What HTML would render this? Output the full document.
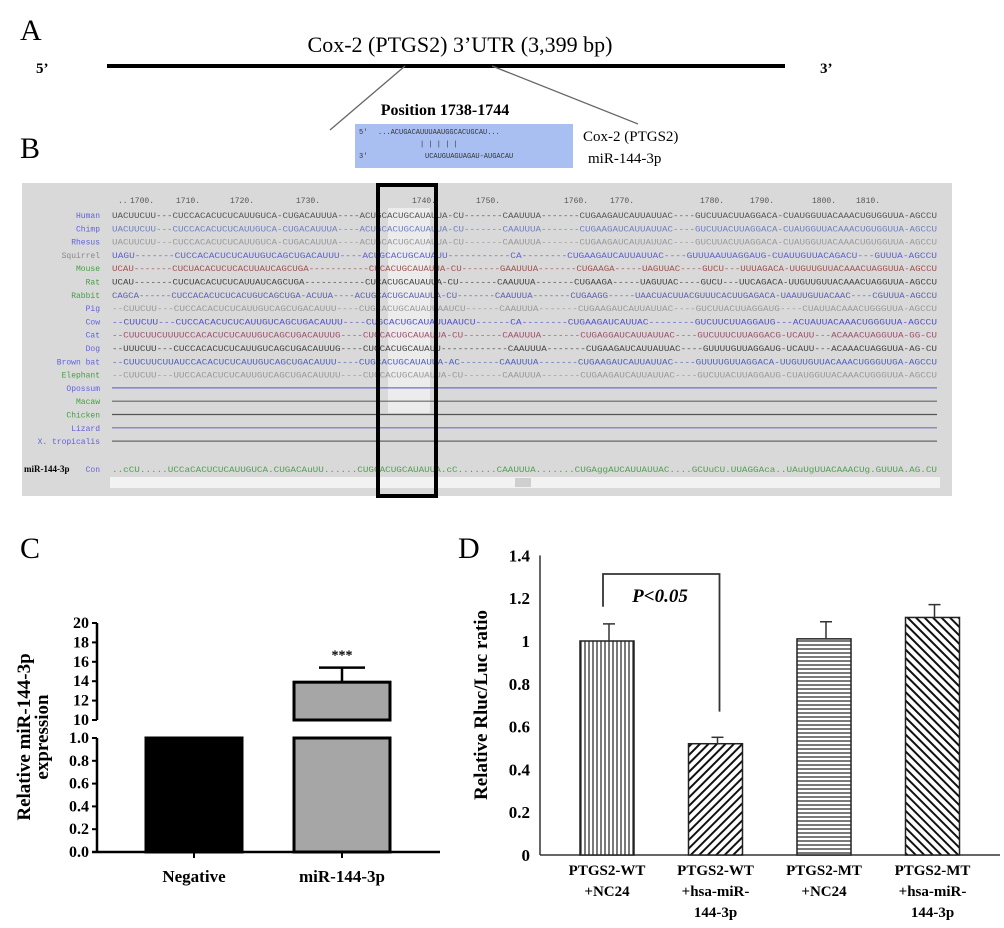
<!DOCTYPE html>
<html><head><meta charset="utf-8"><style>
html,body{margin:0;padding:0;background:#fff;}
svg{display:block;font-family:"Liberation Serif",serif;}
</style></head><body>
<svg id="fig" width="1004" height="928" viewBox="0 0 1004 928" xmlns="http://www.w3.org/2000/svg">
<defs>
<pattern id="pv" width="4" height="4" patternUnits="userSpaceOnUse"><rect width="4" height="4" fill="#fff"/><line x1="1" y1="0" x2="1" y2="4" stroke="#222" stroke-width="1.2"/></pattern>
<pattern id="ph" width="4" height="4" patternUnits="userSpaceOnUse"><rect width="4" height="4" fill="#fff"/><line x1="0" y1="1" x2="4" y2="1" stroke="#222" stroke-width="1.2"/></pattern>
<pattern id="pd1" width="6" height="6" patternUnits="userSpaceOnUse" patternTransform="rotate(45)"><rect width="6" height="6" fill="#fff"/><line x1="1" y1="0" x2="1" y2="6" stroke="#111" stroke-width="2"/></pattern>
<pattern id="pd2" width="6" height="6" patternUnits="userSpaceOnUse" patternTransform="rotate(-45)"><rect width="6" height="6" fill="#fff"/><line x1="1" y1="0" x2="1" y2="6" stroke="#111" stroke-width="2"/></pattern>
</defs>

<!-- Panel A -->
<text x="20" y="40" font-size="30">A</text>
<text x="460" y="52" font-size="22" text-anchor="middle">Cox-2 (PTGS2) 3’UTR (3,399 bp)</text>
<text x="36" y="73" font-size="15" font-weight="bold">5’</text>
<text x="820" y="73" font-size="15" font-weight="bold">3’</text>
<line x1="107" y1="66" x2="785" y2="66" stroke="#000" stroke-width="4"/>
<line x1="405" y1="66" x2="330" y2="130" stroke="#666" stroke-width="1.3"/>
<line x1="492" y1="66" x2="638" y2="124" stroke="#666" stroke-width="1.3"/>

<!-- Panel B -->
<text x="20" y="158" font-size="30">B</text>
<text x="445" y="115" font-size="16" font-weight="bold" text-anchor="middle">Position 1738-1744</text>
<rect x="355" y="124" width="218" height="44" fill="#a9bff2"/>
<g font-family="Liberation Mono,monospace" font-size="7" fill="#333">
<text x="359" y="134">5'</text><text x="378" y="134">...ACUGACAUUUAAUGGCACUGCAU...</text>
<text x="420" y="146">| | | | |</text>
<text x="359" y="158">3'</text><text x="425" y="158">UCAUGUAGUAGAU-AUGACAU</text>
</g>
<text x="583" y="141" font-size="15">Cox-2 (PTGS2)</text>
<text x="588" y="163" font-size="15">miR-144-3p</text>

<rect x="22" y="183" width="930" height="313" fill="#d9d9d9"/>
<rect x="388" y="208" width="42" height="205" fill="#fff" opacity="0.5"/>
<g id="aln"></g>
<rect x="110" y="477" width="830" height="11" fill="#f2f2f2"/>
<rect x="515" y="478" width="16" height="9" fill="#cfcfcf"/>
<rect x="378" y="185" width="58" height="311" fill="none" stroke="#000" stroke-width="4"/>

<!-- Panel C -->
<text x="20" y="558" font-size="30">C</text>
<g id="chartC"></g>
<!-- Panel D -->
<text x="458" y="558" font-size="30">D</text>
<g id="chartD"></g>
</svg>
<script>
const NS="http://www.w3.org/2000/svg";
function mk(p,t,a){const e=document.createElementNS(NS,t);for(const k in a)e.setAttribute(k,a[k]);p.appendChild(e);return e;}

// Alignment
const species=["Human","Chimp","Rhesus","Squirrel","Mouse","Rat","Rabbit","Pig","Cow","Cat","Dog","Brown bat","Elephant","Opossum","Macaw","Chicken","Lizard","X. tropicalis"];
const labelColors=["#6060e0","#6060e0","#6060e0","#888","#40a040","#40a040","#40a040","#6060e0","#6060e0","#6060e0","#6060e0","#6060e0","#40a040","#6060e0","#40a040","#40a040","#6060e0","#6060e0"];
const seqColors=["#555","#7080c0","#999","#6060d0","#a05050","#444","#6060b0","#999","#5050d0","#a05070","#444","#5060c0","#999","#7070d0","#666","#555","#7070c0","#666"];
const seqs=[
"UACUUCUU---CUCCACACUCUCAUUGUCA-CUGACAUUUA----ACUGCACUGCAUAUUA-CU-------CAAUUUA-------CUGAAGAUCAUUAUUAC----GUCUUACUUAGGACA-CUAUGGUUACAAACUGUGGUUA-AGCCU",
"UACUUCUU---CUCCACACUCUCAUUGUCA-CUGACAUUUA----ACUGCACUGCAUAUUA-CU-------CAAUUUA-------CUGAAGAUCAUUAUUAC----GUCUUACUUAGGACA-CUAUGGUUACAAACUGUGGUUA-AGCCU",
"UACUUCUU---CUCCACACUCUCAUUGUCA-CUGACAUUUA----ACUGCACUGCAUAUUA-CU-------CAAUUUA-------CUGAAGAUCAUUAUUAC----GUCUUACUUAGGACA-CUAUGGUUACAAACUGUGGUUA-AGCCU",
"UAGU-------CUCCACACUCUCAUUGUCAGCUGACAUUU----ACUGCACUGCAUAUU-----------CA--------CUGAAGAUCAUUAUUAC----GUUUAAUUAGGAUG-CUAUUGUUACAGACU---GUUUA-AGCCU",
"UCAU-------CUCUACACUCUCACUUAUCAGCUGA-----------CUCACUGCAUAUUA-CU-------GAAUUUA-------CUGAAGA-----UAGUUAC----GUCU---UUUAGACA-UUGUUGUUACAAACUAGGUUA-AGCCU",
"UCAU-------CUCUACACUCUCAUUAUCAGCUGA-----------CUCACUGCAUAUUA-CU-------CAAUUUA-------CUGAAGA-----UAGUUAC----GUCU---UUCAGACA-UUGUUGUUACAAACUAGGUUA-AGCCU",
"CAGCA------CUCCACACUCUCACUGUCAGCUGA-ACUUA----ACUGCACUGCAUAUUA-CU-------CAAUUUA-------CUGAAGG-----UAACUACUUACGUUUCACUUGAGACA-UAAUUGUUACAAC----CGUUUA-AGCCU",
"--CUUCUU---CUCCACACUCUCAUUGUCAGCUGACAUUU----CUGCACUGCAUAUUAAUCU------CAAUUUA-------CUGAAGAUCAUUAUUAC----GUCUUACUUAGGAUG----CUAUUACAAACUGGGUUA-AGCCU",
"--CUUCUU---CUCCACACUCUCAUUGUCAGCUGACAUUU----CUGCACUGCAUAUUAAUCU------CA--------CUGAAGAUCAUUAC--------GUCUUCUUAGGAUG---ACUAUUACAAACUGGGUUA-AGCCU",
"--CUUCUUCUUUUCCACACUCUCAUUGUCAGCUGACAUUUG----CUGCACUGCAUAUUA-CU-------CAAUUUA-------CUGAGGAUCAUUAUUAC----GUCUUUCUUAGGACG-UCAUU---ACAAACUAGGUUA-GG-CU",
"--UUUCUU---CUCCACACUCUCAUUGUCAGCUGACAUUUG----CUGCACUGCAUAUU------------CAAUUUA-------CUGAAGAUCAUUAUUAC----GUUUUGUUAGGAUG-UCAUU---ACAAACUAGGUUA-AG-CU",
"--CUUCUUCUUAUCCACACUCUCAUUGUCAGCUGACAUUU----CUGCACUGCAUAUUA-AC-------CAAUUUA-------CUGAAGAUCAUUAUUAC----GUUUUGUUAGGACA-UUGUUGUUACAAACUGGGUUGA-AGCCU",
"--CUUCUU---UUCCACACUCUCAUUGUCAGCUGACAUUUU----CUGCACUGCAUAUUA-CU-------CAAUUUA-------CUGAAGAUCAUUAUUAC----GUCUUACUUAGGAUG-CUAUGGUUACAAACUGGGUUA-AGCCU"];
const consensus="..cCU.....UCCaCACUCUCAUUGUCA.CUGACAuUU......CUGCACUGCAUAUUA.cC.......CAAUUUA.......CUGAggAUCAUUAUUAC....GCUuCU.UUAGGAca..UAuUgUUACAAACUg.GUUUA.AG.CU";
const ticks=["1700","1710","1720","1730","1740","1750","1760","1770","1780","1790","1800","1810"];
const aln=document.getElementById('aln');
const rowY0=215, rowStep=13.3, seqX0=112, seqW=825;
const tickXs=[142,188,242,308,424,488,576,622,712,762,824,868];
ticks.forEach((t,i)=>{const e=mk(aln,'text',{x:tickXs[i],y:203,'font-size':8,'font-family':'Liberation Mono,monospace',fill:'#555','text-anchor':'middle'});e.textContent=t+'.';

});
mk(aln,'text',{x:118,y:203,'font-size':8,fill:'#555','font-family':'Liberation Mono,monospace'}).textContent="..";
species.forEach((s,i)=>{const y=rowY0+i*rowStep;
 const l=mk(aln,'text',{x:100,y:y+3,'font-size':8,'font-family':'Liberation Mono,monospace','text-anchor':'end',fill:labelColors[i]});l.textContent=s;
 
 
 if(i<seqs.length){const t=mk(aln,'text',{x:seqX0,y:y+3,'font-size':8,'font-family':'Liberation Mono,monospace',fill:seqColors[i],textLength:seqW,lengthAdjust:'spacingAndGlyphs'});t.textContent=seqs[i];
 
 }
 else{const ln=mk(aln,'line',{x1:seqX0,y1:y,x2:seqX0+seqW,y2:y,stroke:seqColors[i],'stroke-width':1.2});
 
 }
});
const ml=mk(aln,'text',{x:24,y:472,'font-size':9,'font-weight':'bold',fill:'#000'});ml.textContent="miR-144-3p";


const cl=mk(aln,'text',{x:100,y:472,'font-size':8,'font-family':'Liberation Mono,monospace','text-anchor':'end',fill:'#6060e0'});cl.textContent="Con";


const ct=mk(aln,'text',{x:seqX0,y:472,'font-size':8,'font-family':'Liberation Mono,monospace',fill:'#50a050',textLength:seqW,lengthAdjust:'spacingAndGlyphs'});ct.textContent=consensus;



// Chart C
const cCats=["Negative","miR-144-3p"];
const cVals=[1.0,13.9];
const cErr=[0,1.5];
const cLowTicks=["0.0","0.2","0.4","0.6","0.8","1.0"];
const cHighTicks=["10","12","14","16","18","20"];
const gC=document.getElementById('chartC');
const yLow=v=>852-v*114;           // 0..1
const yHigh=v=>720-(v-10)*9.7;     // 10..20
const cX=i=>194+i*148;
mk(gC,'line',{x1:97,y1:852,x2:97,y2:738,stroke:'#000','stroke-width':2.5});
mk(gC,'line',{x1:97,y1:720,x2:97,y2:623,stroke:'#000','stroke-width':2.5});
mk(gC,'line',{x1:92,y1:852,x2:440,y2:852,stroke:'#000','stroke-width':2.5});
cLowTicks.forEach(t=>{const y=yLow(+t);mk(gC,'line',{x1:92,y1:y,x2:97,y2:y,stroke:'#000','stroke-width':2});
 const e=mk(gC,'text',{x:89,y:y+5,'font-size':16,'font-weight':'bold','text-anchor':'end'});e.textContent=t;
 
 });
cHighTicks.forEach(t=>{const y=yHigh(+t);mk(gC,'line',{x1:92,y1:y,x2:97,y2:y,stroke:'#000','stroke-width':2});
 const e=mk(gC,'text',{x:89,y:y+5,'font-size':16,'font-weight':'bold','text-anchor':'end'});e.textContent=t;
 
 });
const cFill=["#000","#a6a6a6"];
cCats.forEach((c,i)=>{const x=cX(i)-48,w=96,v=cVals[i];
 const r1=mk(gC,'rect',{x:x,y:yLow(Math.min(v,1)),width:w,height:852-yLow(Math.min(v,1)),fill:cFill[i],stroke:'#000','stroke-width':3});
 
 
 if(v>10){const r2=mk(gC,'rect',{x:x,y:yHigh(v),width:w,height:720-yHigh(v),fill:cFill[i],stroke:'#000','stroke-width':3});
 
 
 if(cErr[i]>0){const ye=yHigh(v+cErr[i]);mk(gC,'line',{x1:cX(i),y1:yHigh(v),x2:cX(i),y2:ye,stroke:'#000','stroke-width':2.5});
 mk(gC,'line',{x1:cX(i)-23,y1:ye,x2:cX(i)+23,y2:ye,stroke:'#000','stroke-width':2.5});
 const s=mk(gC,'text',{x:cX(i),y:ye-8,'font-size':14,'font-weight':'bold','text-anchor':'middle'});s.textContent="***";
 
 }}
 mk(gC,'line',{x1:cX(i),y1:852,x2:cX(i),y2:858,stroke:'#000','stroke-width':2});
 const t=mk(gC,'text',{x:cX(i),y:882,'font-size':17,'font-weight':'bold','text-anchor':'middle'});t.textContent=c;
 
 });
const tc=mk(gC,'text',{transform:'translate(30,737) rotate(-90)','font-size':19,'font-weight':'bold','text-anchor':'middle'});tc.textContent="Relative miR-144-3p";


const tc2=mk(gC,'text',{transform:'translate(48,737) rotate(-90)','font-size':19,'font-weight':'bold','text-anchor':'middle'});tc2.textContent="expression";



// Chart D
const dCats=[["PTGS2-WT","+NC24"],["PTGS2-WT","+hsa-miR-","144-3p"],["PTGS2-MT","+NC24"],["PTGS2-MT","+hsa-miR-","144-3p"]];
const dVals=[1.0,0.52,1.01,1.11];
const dErr=[0.08,0.03,0.08,0.06];
const dTicks=["0","0.2","0.4","0.6","0.8","1","1.2","1.4"];
const gD=document.getElementById('chartD');
const yD=v=>855-v*214;
const xD=i=>607+i*108.5;
const dFill=["url(#pv)","url(#pd1)","url(#ph)","url(#pd2)"];
mk(gD,'line',{x1:540,y1:yD(1.4),x2:540,y2:855,stroke:'#333','stroke-width':1.5});
mk(gD,'line',{x1:540,y1:855,x2:1000,y2:855,stroke:'#333','stroke-width':1.5});
dTicks.forEach(t=>{const e=mk(gD,'text',{x:530,y:yD(+t)+6,'font-size':17,'font-weight':'bold','text-anchor':'end'});e.textContent=t;
 
 });
dCats.forEach((c,i)=>{const x=xD(i)-27,v=dVals[i];
 const r=mk(gD,'rect',{x:x,y:yD(v),width:54,height:855-yD(v),fill:dFill[i],stroke:'#222','stroke-width':1.5});
 
 
 const ye=yD(v+dErr[i]);
 mk(gD,'line',{x1:xD(i)+2,y1:yD(v),x2:xD(i)+2,y2:ye,stroke:'#333','stroke-width':1.5});
 mk(gD,'line',{x1:xD(i)-4,y1:ye,x2:xD(i)+8,y2:ye,stroke:'#333','stroke-width':1.5});
 c.forEach((s,j)=>{const t=mk(gD,'text',{x:xD(i),y:875+j*21,'font-size':15,'font-weight':'bold','text-anchor':'middle'});t.textContent=s;
 
 });});
const br=mk(gD,'polyline',{points:`${xD(0)-4},${yD(1.16)} ${xD(0)-4},574 ${xD(1)+4},574 ${xD(1)+4},${yD(0.67)}`,fill:'none',stroke:'#333','stroke-width':1.8});


const pt=mk(gD,'text',{x:660,y:602,'font-size':19,'font-weight':'bold','font-style':'italic','text-anchor':'middle'});pt.textContent="P<0.05";


const td=mk(gD,'text',{transform:'translate(487,705) rotate(-90)','font-size':19,'font-weight':'bold','text-anchor':'middle'});td.textContent="Relative Rluc/Luc ratio";


</script>
</body></html>
